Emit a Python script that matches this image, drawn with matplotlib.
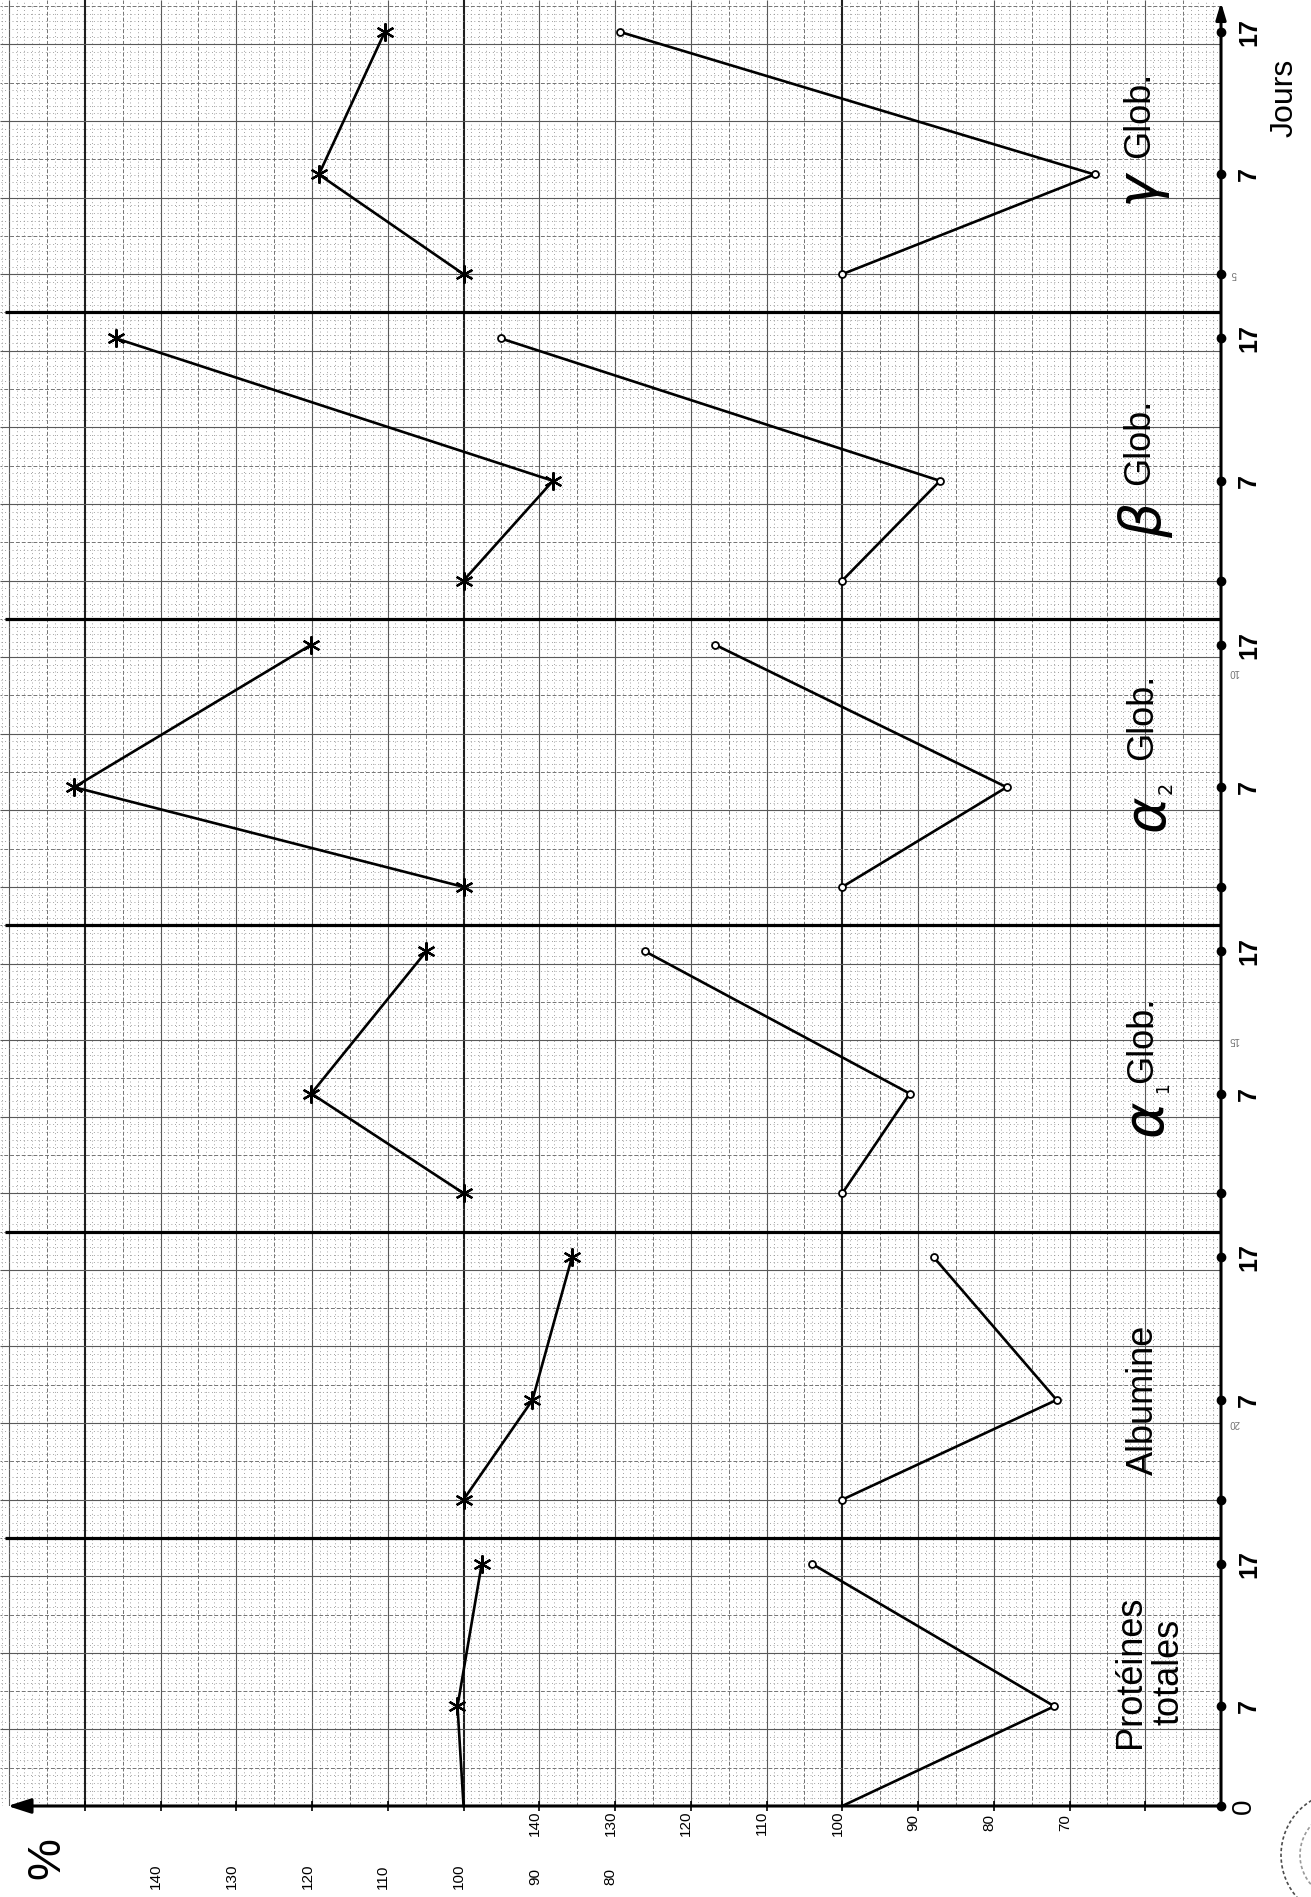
import matplotlib.pyplot as plt
from matplotlib.patches import Arc

# sampling days, same for every fraction
days = [0, 7, 17]

# upper curves (asterisks), read on the outer % scale
star_prot = [100, 100.8, 97.6]
star_alb = [100, 90.9, 85.7]
star_a1 = [100, 120.1, 104.9]
star_a2 = [100, 151.4, 120.1]
star_beta = [100, 88.2, 145.9]
star_gamma = [100, 119.1, 110.4]

# lower curves (circles), read on the inner % scale
circ_prot = [100, 72.0, 104.0]
circ_alb = [100, 71.7, 87.9]
circ_a1 = [100, 91.1, 126.1]
circ_a2 = [100, 78.3, 116.8]
circ_beta = [100, 87.1, 145.1]
circ_gamma = [100, 66.7, 129.3]

star_curves = [star_prot, star_alb, star_a1, star_a2, star_beta, star_gamma]
circ_curves = [circ_prot, circ_alb, circ_a1, circ_a2, circ_beta, circ_gamma]

inner_ticks = [140, 130, 120, 110, 100, 90, 80, 70]
outer_ticks = [140, 130, 120, 110, 100, 90, 80]
day_labels = ['0', '7', '17']

STAR_SHIFT = 50      # outer scale sits 50 points left of the inner one
PANEL_H = 4.0        # cm of paper per fraction
DAY_CM = 0.186       # cm of paper per day
SEP = 3.5            # separator line above each fraction

FONT = ['Liberation Sans', 'DejaVu Sans']

fig = plt.figure(figsize=(13.11, 18.97), dpi=100, facecolor='white')
ax = fig.add_axes([0, 91 / 1897, 1221 / 1311, 1806 / 1897])
ax.set_xlim(211.2, 50)
ax.set_ylim(0, 23.58)
ax.axis('off')


def ypos(panel, d):
    return panel * PANEL_H + d * DAY_CM


# graph paper: 1 mm dots, 5 mm dashes, 1 cm lines, 5 cm bold
for v in range(51, 212):
    if v % 50 == 0:
        kw = dict(color='0.12', lw=1.5, ls='-')
    elif v % 10 == 0:
        kw = dict(color='0.35', lw=0.8, ls='-')
    elif v % 5 == 0:
        kw = dict(color='0.45', lw=0.7, ls=(0, (4, 2)))
    else:
        kw = dict(color='0.55', lw=0.7, ls=(0, (0.8, 3)))
    ax.vlines(v, 0, 23.58, zorder=1, **kw)
for mm in range(1, 236):
    yy = mm / 10
    if mm % 10 == 0:
        kw = dict(color='0.35', lw=0.8, ls='-')
    elif mm % 5 == 0:
        kw = dict(color='0.45', lw=0.7, ls=(0, (4, 2)))
    else:
        kw = dict(color='0.55', lw=0.7, ls=(0, (0.8, 3)))
    ax.hlines(yy, 50, 211.2, zorder=1, **kw)

# printed cm numbers of the paper
for yy, s in zip([5, 10, 14.8, 20], ['20', '15', '10', '5']):
    ax.text(48.3, yy, s, rotation=180, fontsize=7, color='0.45',
            ha='center', va='center', family=FONT, clip_on=False)

# separators between fractions
for i in range(5):
    ax.hlines(i * PANEL_H + SEP, 50, 210.5, color='k', lw=2.3, zorder=3)

# axes with arrows
ax.annotate('', xy=(210.2, 0), xytext=(50, 0), annotation_clip=False,
            arrowprops=dict(arrowstyle='-|>,head_length=1.4,head_width=0.45',
                            color='k', lw=2.2, shrinkA=0, shrinkB=0), zorder=4)
ax.annotate('', xy=(50, 23.55), xytext=(50, 0), annotation_clip=False,
            arrowprops=dict(arrowstyle='-|>,head_length=1.0,head_width=0.3',
                            color='k', lw=2.2, shrinkA=0, shrinkB=0), zorder=4)
for v in range(200, 55, -10):
    ax.vlines(v, -0.07, 0.07, color='k', lw=1.2, zorder=4, clip_on=False)

# curves
for i in range(6):
    yy = [ypos(i, d) for d in days]
    every = [1, 2] if i == 0 else [0, 1, 2]
    ax.plot([v + STAR_SHIFT for v in star_curves[i]], yy, color='k', lw=1.9,
            marker=(6, 2, 0), markersize=13, mew=1.6, markevery=every,
            zorder=6, clip_on=False)
    ax.plot(circ_curves[i], yy, color='k', lw=1.9, marker='o', markersize=5,
            mfc='white', mec='k', mew=1.3, markevery=every, zorder=6,
            clip_on=False)
    # day marks on the time axis
    ax.plot([50] * 3, yy, 'o', color='k', markersize=6, zorder=7, clip_on=False)
    for d, lab in zip(days, day_labels):
        if lab == '0':
            if i == 0:
                ax.text(47.0, ypos(i, d), lab, rotation=90, fontsize=20,
                        ha='center', va='center', family=FONT, clip_on=False)
            continue
        ax.text(46.3, ypos(i, d), lab, rotation=90, fontsize=18,
                fontweight='bold', ha='center', va='center', family=FONT,
                clip_on=False)

ax.text(41.6, 22.3, 'Jours', rotation=90, fontsize=23, ha='center',
        va='center', family=FONT, clip_on=False)

# % scales under the axis
for v in inner_ticks:
    ax.text(v + 0.6, -0.22, str(v), rotation=90, fontsize=11, ha='center',
            va='center', family=FONT, clip_on=False)
for v in outer_ticks:
    ax.text(v + STAR_SHIFT + 0.6, -0.92, str(v), rotation=90, fontsize=11,
            ha='center', va='center', family=FONT, clip_on=False)
ax.text(204.9, -0.68, '%', rotation=90, fontsize=34, ha='center',
        va='center', family=FONT, clip_on=False)

# fraction names
lab = dict(rotation=90, fontsize=26, ha='center', va='center', family=FONT)
greek = dict(rotation=90, fontsize=40, ha='center', va='center',
             family=['DejaVu Sans'], fontstyle='italic')
ax.text(59.4, 1.75, 'Protéines\ntotales', linespacing=1.12, **lab)
ax.text(60.3, 5.30, 'Albumine', **lab)
ax.text(59.8, 8.97, 'α', **greek)
ax.text(57.6, 9.38, '1', rotation=90, fontsize=12, ha='center', va='center')
ax.text(60.4, 10.0, 'Glob.', **lab)
ax.text(59.5, 12.96, 'α', **greek)
ax.text(57.3, 13.30, '2', rotation=90, fontsize=14, ha='center', va='center')
ax.text(60.4, 14.22, 'Glob.', **lab)
ax.text(59.9, 16.79, 'β', **greek)
ax.text(60.8, 17.81, 'Glob.', **lab)
ax.text(60.8, 21.14, 'γ', **greek)
ax.text(60.8, 22.08, 'Glob.', **lab)

# round stamp in the corner
for r, c in [(0.64, '0.3'), (0.45, '0.6')]:
    fig.add_artist(Arc((13.45, 0.42), 2 * r, 2 * r, theta1=90, theta2=270,
                       transform=fig.dpi_scale_trans, color=c, lw=1.2,
                       ls=(0, (2, 1.5))))

fig.savefig('out.png', dpi=100, facecolor='white')
